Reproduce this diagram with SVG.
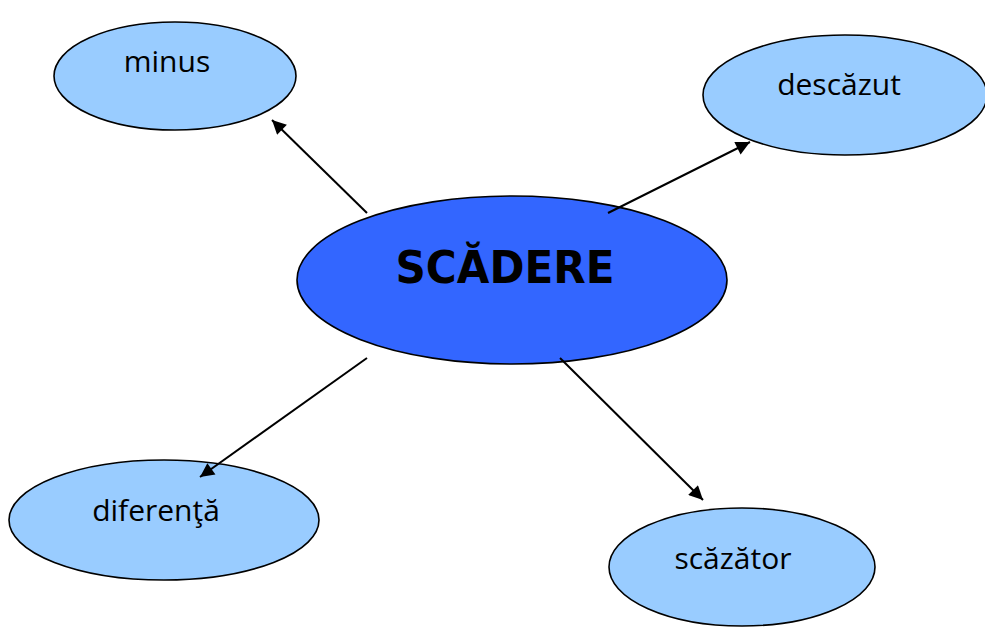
<svg xmlns="http://www.w3.org/2000/svg" width="985" height="627" viewBox="0 0 985 627">
<defs>
<style>
.leaf{fill:#99CCFF;stroke:#000;stroke-width:1.6}
.main{fill:#3366FF;stroke:#000;stroke-width:1.6}
.lt{font-family:"Open Sans","Noto Sans","Liberation Sans",sans-serif;font-size:30px;fill:#000;text-anchor:middle}
.mt{font-family:"DejaVu Sans","Liberation Sans",sans-serif;font-weight:bold;font-size:45px;fill:#000;text-anchor:middle}
.edge{stroke:#000;stroke-width:2;fill:none;marker-end:url(#ah)}
</style>
<marker id="ah" viewBox="0 0 10 10" refX="10" refY="5" markerWidth="8" markerHeight="7" markerUnits="strokeWidth" orient="auto">
<path d="M0,0 L10,5 L0,10 z" fill="#000"/>
</marker>
</defs>
<g id="scadere">
<ellipse class="main" cx="512" cy="280" rx="215" ry="84"/>
<text class="mt" x="505" y="283" textLength="219" lengthAdjust="spacingAndGlyphs">SCĂDERE</text>
</g>
<g id="minus">
<ellipse class="leaf" cx="175" cy="76" rx="121" ry="54"/>
<text class="lt" x="167" y="72">minus</text>
</g>
<g id="descazut">
<ellipse class="leaf" cx="845" cy="95" rx="142" ry="60"/>
<text class="lt" x="839" y="95">descăzut</text>
</g>
<g id="diferenta">
<ellipse class="leaf" cx="164" cy="520" rx="155" ry="60"/>
<text class="lt" x="156" y="521">diferenţă</text>
</g>
<g id="scazator">
<ellipse class="leaf" cx="742" cy="567" rx="133" ry="59"/>
<text class="lt" x="733" y="569">scăzător</text>
</g>
<g id="connectors">
<line class="edge" x1="367" y1="213" x2="272" y2="120"/>
<line class="edge" x1="608" y1="213" x2="750" y2="142"/>
<line class="edge" x1="367" y1="358" x2="200" y2="477"/>
<line class="edge" x1="560" y1="358" x2="703" y2="500"/>
</g>
</svg>
